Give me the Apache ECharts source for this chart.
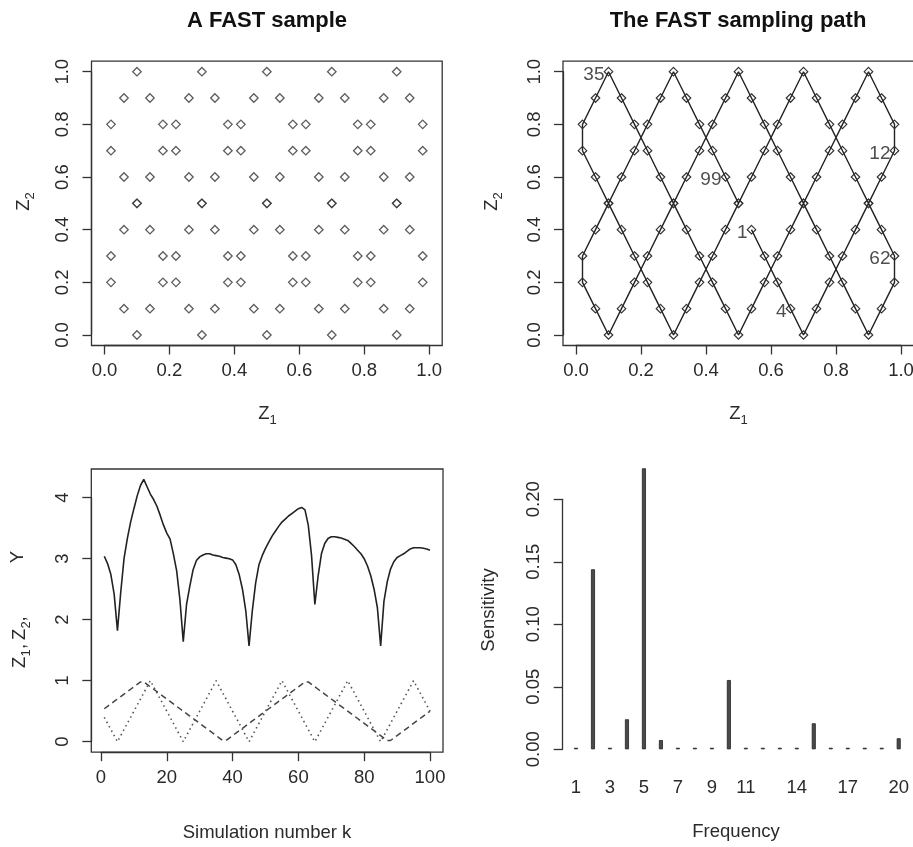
<!DOCTYPE html>
<html><head><meta charset="utf-8">
<script src="https://cdn.jsdelivr.net/npm/echarts@6/dist/echarts.min.js"></script>
<style>html,body{margin:0;padding:0;background:#fff}#c{width:913px;height:847px}</style>
</head><body><div id="c"></div>
<script>
// ---- data ----
const simK = [1,2,3,4,5,6,7,8,9,10,11,12,13,14,15,16,17,18,19,20,21,22,23,24,25,26,27,28,29,30,31,32,33,34,35,36,37,38,39,40,41,42,43,44,45,46,47,48,49,50,51,52,53,54,55,56,57,58,59,60,61,62,63,64,65,66,67,68,69,70,71,72,73,74,75,76,77,78,79,80,81,82,83,84,85,86,87,88,89,90,91,92,93,94,95,96,97,98,99,100];
const z1 = [0.54,0.58,0.62,0.66,0.70,0.74,0.78,0.82,0.86,0.90,0.94,0.98,
  0.98,0.94,0.90,0.86,0.82,0.78,0.74,0.70,0.66,0.62,0.58,0.54,0.50,0.46,0.42,0.38,0.34,0.30,0.26,0.22,0.18,0.14,0.10,0.06,0.02,
  0.02,0.06,0.10,0.14,0.18,0.22,0.26,0.30,0.34,0.38,0.42,0.46,0.50,0.54,0.58,0.62,0.66,0.70,0.74,0.78,0.82,0.86,0.90,0.94,0.98,
  0.98,0.94,0.90,0.86,0.82,0.78,0.74,0.70,0.66,0.62,0.58,0.54,0.50,0.46,0.42,0.38,0.34,0.30,0.26,0.22,0.18,0.14,0.10,0.06,0.02,
  0.02,0.06,0.10,0.14,0.18,0.22,0.26,0.30,0.34,0.38,0.42,0.46,0.50];
const z2 = [0.4,0.3,0.2,0.1,0.0,
  0.1,0.2,0.3,0.4,0.5,0.6,0.7,0.8,0.9,1.0,
  0.9,0.8,0.7,0.6,0.5,0.4,0.3,0.2,0.1,0.0,
  0.1,0.2,0.3,0.4,0.5,0.6,0.7,0.8,0.9,1.0,
  0.9,0.8,0.7,0.6,0.5,0.4,0.3,0.2,0.1,0.0,
  0.1,0.2,0.3,0.4,0.5,0.6,0.7,0.8,0.9,1.0,
  0.9,0.8,0.7,0.6,0.5,0.4,0.3,0.2,0.1,0.0,
  0.1,0.2,0.3,0.4,0.5,0.6,0.7,0.8,0.9,1.0,
  0.9,0.8,0.7,0.6,0.5,0.4,0.3,0.2,0.1,0.0,
  0.1,0.2,0.3,0.4,0.5,0.6,0.7,0.8,0.9,1.0,
  0.9,0.8,0.7,0.6,0.5];
const yOut = [3.04,2.92,2.74,2.42,1.82,2.45,3.00,3.33,3.60,3.82,4.03,4.20,4.30,4.18,4.06,3.97,3.86,3.71,3.55,3.42,
  3.32,3.08,2.80,2.32,1.64,2.25,2.55,2.82,2.97,3.03,3.06,3.08,3.08,3.06,3.05,3.04,3.02,3.01,3.00,2.98,
  2.90,2.74,2.50,2.15,1.57,2.15,2.60,2.90,3.05,3.17,3.27,3.37,3.45,3.53,3.60,3.65,3.70,3.74,3.78,3.82,
  3.84,3.80,3.55,3.05,2.25,2.72,3.08,3.25,3.33,3.36,3.36,3.35,3.34,3.32,3.30,3.25,3.20,3.14,3.08,3.00,
  2.88,2.72,2.50,2.20,1.57,2.30,2.62,2.83,2.95,3.02,3.05,3.08,3.12,3.16,3.18,3.18,3.18,3.17,3.16,3.14];
const labeledK = [1,4,12,35,62,99];
const frequencies = ['1','2','3','4','5','6','7','8','9','10','11','12','13','14','15','16','17','18','19','20'];
const sensitivity = [0,0.144,0.0012,0.024,0.2248,0.0074,0.001,0.001,0.0004,0.0554,0,0,0,0,0.0208,0,0,0,0,0.0088];
const freqTickLabels = ['1','3','5','7','9','11','14','17','20'];

// ---- styles ----
const F = '"Liberation Sans", Arial, sans-serif';
const INK = '#333';
const TXT = '#2a2a2a';
const FS = 18.5;

function vAxisX(grid, min, max, interval, dec, offset) {
  return {
    type: 'value', gridIndex: grid, min, max, interval, offset,
    axisLine: {show: true, onZero: false, lineStyle: {color: INK, width: 1.3}},
    axisTick: {show: true, length: 9, lineStyle: {color: INK, width: 1.3}},
    axisLabel: {fontSize: FS, fontFamily: F, color: TXT, margin: 16,
      formatter: v => v.toFixed(dec)},
    splitLine: {show: false}
  };
}
function vAxisY(grid, min, max, interval, dec, offset) {
  return {
    type: 'value', gridIndex: grid, min, max, interval, offset,
    axisLine: {show: true, onZero: false, lineStyle: {color: INK, width: 1.3}},
    axisTick: {show: true, length: 9, lineStyle: {color: INK, width: 1.3}},
    axisLabel: {fontSize: FS, fontFamily: F, color: TXT, margin: 19, rotate: 90,
      formatter: v => v.toFixed(dec)},
    splitLine: {show: false}
  };
}
function box(x, y, w, h) {
  return {type: 'rect', silent: true, z: 100, shape: {x, y, width: w, height: h},
    style: {fill: 'none', stroke: INK, lineWidth: 1.3}};
}
function text(x, y, s, size, bold, rot) {
  return {type: 'text', silent: true, x, y, rotation: rot || 0,
    style: {text: s, fontSize: size, fontFamily: F, fontWeight: bold ? 'bold' : 'normal',
      fill: bold ? '#111' : TXT, align: 'center', verticalAlign: 'middle'}};
}
function zsub(x, y, sub, rot) {
  return {type: 'group', x, y, rotation: rot || 0, silent: true, children: [
    {type: 'text', x: 0, y: 0, style: {text: 'Z', fontSize: FS, fontFamily: F, fill: TXT, align: 'center', verticalAlign: 'middle'}},
    {type: 'text', x: 9, y: 6, style: {text: sub, fontSize: 13, fontFamily: F, fill: TXT, align: 'center', verticalAlign: 'middle'}}
  ]};
}
function seq(x, y, parts, rot) {
  // parts: [text, localX, localY, size]
  return {type: 'group', x, y, rotation: rot || 0, silent: true,
    children: parts.map(p => ({type: 'text', x: p[1], y: p[2],
      style: {text: p[0], fontSize: p[3], fontFamily: F, fill: TXT, align: 'left', verticalAlign: 'middle'}}))};
}

const pts = simK.map((k, i) => [z1[i], z2[i]]);
const labelPts = labeledK.map(k => [z1[k - 1], z2[k - 1], k]);

const chart = echarts.init(document.getElementById('c'), null, {renderer: 'canvas'});
chart.setOption({
  animation: false,
  backgroundColor: '#fff',
  grid: [
    {left: 104.5, top: 71.7, width: 324.7, height: 263.3, outerBoundsMode: 'none'},
    {left: 576, top: 71.7, width: 325, height: 263.3, outerBoundsMode: 'none'},
    {left: 101, top: 497.7, width: 329, height: 244, outerBoundsMode: 'none'},
    {left: 567.5, top: 499.3, width: 339.7, height: 250, outerBoundsMode: 'none'}
  ],
  xAxis: [
    vAxisX(0, 0, 1, 0.2, 1, 10.5),
    vAxisX(1, 0, 1, 0.2, 1, 10.5),
    vAxisX(2, 0, 100, 20, 0, 10.5),
    {type: 'category', gridIndex: 3, data: frequencies, boundaryGap: true,
      axisLine: {show: false}, axisTick: {show: false},
      axisLabel: {fontSize: FS, fontFamily: F, color: TXT, margin: 29,
        interval: (idx, val) => freqTickLabels.indexOf(val) >= 0}}
  ],
  yAxis: [
    vAxisY(0, 0, 1, 0.2, 1, 13),
    vAxisY(1, 0, 1, 0.2, 1, 13),
    vAxisY(2, 0, 4, 1, 0, 9.7),
    vAxisY(3, 0, 0.2, 0.05, 2, 4.8)
  ],
  series: [
    {type: 'scatter', xAxisIndex: 0, yAxisIndex: 0, data: pts, symbol: 'diamond', symbolSize: 8.5, clip: false,
      itemStyle: {color: 'rgba(0,0,0,0)', borderColor: '#333', borderWidth: 1.3}},
    {type: 'line', xAxisIndex: 1, yAxisIndex: 1, data: pts, symbol: 'diamond', symbolSize: 8.5, showSymbol: true, clip: false,
      lineStyle: {color: '#222', width: 1.4}, itemStyle: {color: 'rgba(0,0,0,0)', borderColor: '#333', borderWidth: 1.2}},
    {type: 'scatter', xAxisIndex: 1, yAxisIndex: 1, data: labelPts, symbolSize: 0, clip: false,
      label: {show: true, position: 'left', distance: 4, offset: [0, 3], fontSize: 19, fontFamily: F, color: '#222',
        formatter: p => String(p.value[2])}},
    {type: 'line', xAxisIndex: 2, yAxisIndex: 2, data: simK.map((k, i) => [k, yOut[i]]), showSymbol: false, clip: false,
      lineStyle: {color: '#222', width: 1.6}},
    {type: 'line', xAxisIndex: 2, yAxisIndex: 2, data: simK.map((k, i) => [k, z1[i]]), showSymbol: false, clip: false,
      lineStyle: {color: '#444', width: 1.5, type: [6, 4]}},
    {type: 'line', xAxisIndex: 2, yAxisIndex: 2, data: simK.map((k, i) => [k, z2[i]]), showSymbol: false, clip: false,
      lineStyle: {color: '#555', width: 1.6, type: [1.5, 3.5]}},
    {type: 'bar', xAxisIndex: 3, yAxisIndex: 3, data: sensitivity, barWidth: 4, barMinHeight: 1.5, clip: false,
      itemStyle: {color: '#4a4a4a', borderColor: '#222', borderWidth: 0.8}}
  ],
  graphic: [
    box(91.5, 61.2, 350.7, 284.3),
    box(563, 61.2, 351, 284.3),
    box(91.3, 469, 351.7, 283.2),
    text(267, 21, 'A FAST sample', 22, true),
    text(738, 21, 'The FAST sampling path', 22, true),
    zsub(264, 414, '1'),
    zsub(735, 414, '1'),
    zsub(24, 205, '2', Math.PI / 2),
    zsub(492, 205, '2', Math.PI / 2),
    text(267, 833, 'Simulation number k', FS),
    text(736, 832, 'Frequency', FS),
    text(489, 610, 'Sensitivity', FS, false, Math.PI / 2),
    text(18, 557, 'Y', FS, false, Math.PI / 2),
    seq(20, 640, [['Z', -28, 0, FS], ['1', -16.5, 6, 13], [',', -9, 0, FS], ['Z', 0, 0, FS], ['2', 11.5, 6, 13], [',', 18.5, 0, FS]], Math.PI / 2)
  ]
});
</script></body></html>
